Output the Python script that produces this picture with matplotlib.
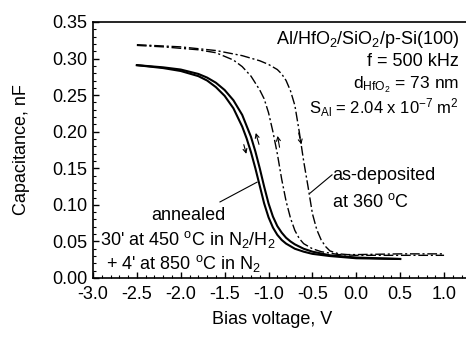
import matplotlib
matplotlib.use("Agg")
import matplotlib.pyplot as plt
from matplotlib.ticker import MultipleLocator

plt.rcParams['font.family'] = ['Liberation Sans', 'DejaVu Sans']
plt.rcParams['mathtext.fontset'] = 'custom'
plt.rcParams['mathtext.rm'] = 'Liberation Sans'
plt.rcParams['mathtext.it'] = 'Liberation Sans:italic'
plt.rcParams['mathtext.bf'] = 'Liberation Sans:bold'

# Annealed sample, forward (down) sweep
ann_down_v = [-2.5, -2.2, -2.0, -1.8, -1.7, -1.6, -1.5, -1.4, -1.3, -1.25, -1.2, -1.15, -1.1,
              -1.05, -1.0, -0.95, -0.9, -0.85, -0.8, -0.7, -0.6, -0.5, -0.3, 0.0, 0.5]
ann_down_c = [0.291, 0.287, 0.283, 0.276, 0.270, 0.261, 0.249, 0.232, 0.207, 0.191, 0.172, 0.150, 0.126,
              0.102, 0.083, 0.069, 0.059, 0.052, 0.047, 0.040, 0.036, 0.033, 0.030, 0.027, 0.026]
# Annealed sample, reverse (up) sweep
ann_up_v = [-2.5, -2.2, -2.0, -1.8, -1.7, -1.6, -1.5, -1.4, -1.3, -1.2, -1.15, -1.1, -1.05,
            -1.0, -0.95, -0.9, -0.85, -0.8, -0.75, -0.7, -0.6, -0.5, -0.3, 0.0, 0.5]
ann_up_c = [0.291, 0.288, 0.285, 0.279, 0.274, 0.267, 0.257, 0.243, 0.223, 0.193, 0.173, 0.150, 0.125,
            0.102, 0.084, 0.071, 0.062, 0.055, 0.050, 0.046, 0.040, 0.036, 0.031, 0.028, 0.026]
# As-deposited sample, inner curve
dep_in_v = [-2.5, -2.2, -2.0, -1.8, -1.6, -1.4, -1.3, -1.2, -1.1, -1.05, -1.0, -0.95, -0.9,
            -0.85, -0.8, -0.75, -0.7, -0.65, -0.6, -0.5, -0.4, -0.3, -0.2, 0.0, 0.5, 1.0]
dep_in_c = [0.318, 0.316, 0.314, 0.312, 0.308, 0.298, 0.289, 0.276, 0.257, 0.245, 0.226, 0.200, 0.170,
            0.135, 0.105, 0.082, 0.065, 0.054, 0.047, 0.040, 0.036, 0.034, 0.032, 0.031, 0.031, 0.031]
# As-deposited sample, outer curve
dep_out_v = [-2.5, -2.0, -1.6, -1.3, -1.1, -1.0, -0.9, -0.85, -0.8, -0.75, -0.7, -0.65,
             -0.6, -0.55, -0.5, -0.45, -0.4, -0.35, -0.3, -0.2, -0.1, 0.0, 0.5, 1.0]
dep_out_c = [0.319, 0.316, 0.311, 0.304, 0.297, 0.292, 0.285, 0.279, 0.270, 0.256, 0.236, 0.200,
             0.160, 0.125, 0.088, 0.066, 0.052, 0.043, 0.037, 0.033, 0.032, 0.032, 0.033, 0.033]

x_ticks = [-3.0, -2.5, -2.0, -1.5, -1.0, -0.5, 0.0, 0.5, 1.0]
y_ticks = [0.00, 0.05, 0.10, 0.15, 0.20, 0.25, 0.30, 0.35]

fs = 13

fig = plt.figure(figsize=(4.66, 3.37), dpi=100)
ax = fig.add_axes([93/466, 1-278/337, 1-93/466, (278-22)/337])

ax.plot(ann_down_v, ann_down_c, color='black', lw=1.5)
ax.plot(ann_up_v, ann_up_c, color='black', lw=1.5)
dd = (0, (7, 2, 1.5, 2))
ax.plot(dep_in_v, dep_in_c, color='black', lw=1.0, linestyle=dd)
ax.plot(dep_out_v, dep_out_c, color='black', lw=1.0, linestyle=dd)

ax.set_xlim(-3.0, 1.25)
ax.set_ylim(0.0, 0.35)
ax.set_xticks(x_ticks)
ax.set_xticklabels([f'{t:.1f}' for t in x_ticks])
ax.set_yticks(y_ticks)
ax.set_yticklabels([f'{t:.2f}' for t in y_ticks])
ax.xaxis.set_minor_locator(MultipleLocator(0.1))
ax.yaxis.set_minor_locator(MultipleLocator(0.01))
ax.tick_params(which='both', direction='in', labelsize=fs, top=False, right=False)
ax.tick_params(axis='x', which='major', pad=6)
ax.tick_params(axis='y', which='major', pad=4)
ax.tick_params(which='major', length=4, width=1.0)
ax.tick_params(which='minor', length=2, width=0.8)
ax.spines['right'].set_visible(False)
for s in ['left', 'bottom', 'top']:
    ax.spines[s].set_linewidth(1.2)

fig.text(272/466, 1-320/337, 'Bias voltage, V', ha='center', va='center', fontsize=fs)
fig.text(22/466, 1-150/337, 'Capacitance, nF', ha='center', va='center', rotation=90, fontsize=fs)

# sweep direction arrows
arrow_kw = dict(arrowstyle='->', color='black', lw=0.8, mutation_scale=7)
ax.annotate('', xy=(-1.245, 0.166), xytext=(-1.29, 0.186), arrowprops=arrow_kw)
ax.annotate('', xy=(-1.154, 0.202), xytext=(-1.10, 0.179), arrowprops=arrow_kw)
ax.annotate('', xy=(-0.903, 0.198), xytext=(-0.869, 0.175), arrowprops=arrow_kw)
ax.annotate('', xy=(-0.618, 0.179), xytext=(-0.664, 0.202), arrowprops=arrow_kw)

# leader lines
ax.plot([-1.553, -1.131], [0.104, 0.131], color='black', lw=0.8)
ax.plot([-0.527, -0.277], [0.116, 0.141], color='black', lw=0.8)

def px(x, y):
    return x/466, 1-y/337

fig.text(*px(188, 215), 'annealed', ha='center', va='center', fontsize=fs)
fig.text(*px(188, 239), "30' at 450 $\\mathregular{^o}$C in N$\\mathregular{_2}$/H$\\mathregular{_2}$",
         ha='center', va='center', fontsize=fs)
fig.text(*px(184, 263), "+ 4' at 850 $\\mathregular{^o}$C in N$\\mathregular{_2}$",
         ha='center', va='center', fontsize=fs)
fig.text(*px(332, 175), 'as-deposited', ha='left', va='center', fontsize=fs)
fig.text(*px(332, 202), 'at 360 $\\mathregular{^o}$C', ha='left', va='center', fontsize=fs)

fig.text(*px(459, 39), 'Al/HfO$\\mathregular{_2}$/SiO$\\mathregular{_2}$/p-Si(100)', ha='right', va='center', fontsize=fs)
fig.text(*px(459, 62), 'f = 500 kHz', ha='right', va='center', fontsize=fs)
fig.text(*px(459, 85), 'd$\\mathregular{_{HfO_2}}$ = 73 nm', ha='right', va='center', fontsize=12.5)
fig.text(*px(459, 108), 'S$\\mathregular{_{Al}}$ = 2.04 x 10$\\mathregular{^{-7}}$ m$\\mathregular{^2}$', ha='right', va='center', fontsize=12)

fig.savefig('out.png', dpi=100)
